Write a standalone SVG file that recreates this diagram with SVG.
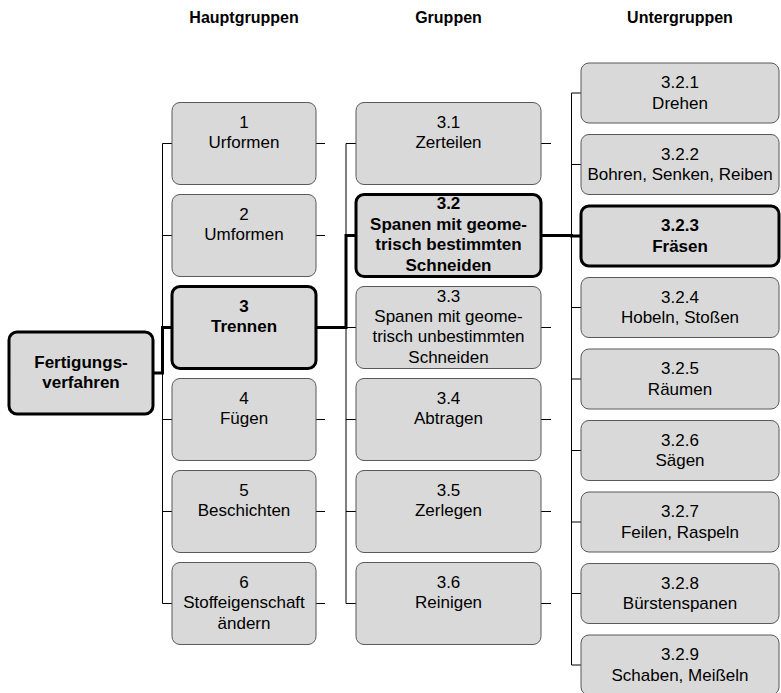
<svg xmlns="http://www.w3.org/2000/svg" width="781" height="693" viewBox="0 0 781 693">
<style>
.n{fill:#d9d9d9;stroke:#595959;stroke-width:1}
.b{fill:#d9d9d9;stroke:#000;stroke-width:3}
text{font-family:"Liberation Sans",Arial,sans-serif;font-size:17px;text-anchor:middle;fill:#000}
.bt{font-weight:bold}
.h{font-weight:bold;font-size:16px}
.thin{fill:none;stroke:#000;stroke-width:1}
.thick{fill:none;stroke:#000;stroke-width:3}
</style>
<rect width="781" height="693" fill="#fff"/>
<g id="headers">
<text class="h" x="244" y="23">Hauptgruppen</text>
<text class="h" x="448.5" y="23">Gruppen</text>
<text class="h" x="680" y="23">Untergruppen</text>
</g>
<g id="connectors">
<path class="thin" d="M162.5 143.5V603.5M162.5 143.5H172M162.5 235.5H172M162.5 419.5H172M162.5 511.5H172M162.5 603.5H172M316 143.5H325M316 235.5H325M316 419.5H325M316 511.5H325M316 603.5H325"/>
<path class="thin" d="M346 143.5V603.5M346 143.5H356M346 327.5H356M346 419.5H356M346 511.5H356M346 603.5H356M541 143.5H551M541 327.5H551M541 419.5H551M541 511.5H551M541 603.5H551"/>
<path class="thin" d="M571.5 93V665M571.5 93H581M571.5 164.5H581M571.5 307.5H581M571.5 379H581M571.5 450.5H581M571.5 522H581M571.5 593.5H581M571.5 665H581"/>
<path class="thick" d="M153 373H162.5V327.5H172M316 327.5H346V235.5H356M541 235.5H571.5V236H581"/>
</g>
<g id="n0"><rect class="b" x="9" y="332" width="144" height="82" rx="8"/><text class="bt" x="81" y="367.5">Fertigungs-</text><text class="bt" x="81" y="388">verfahren</text></g>
<g id="n1"><rect class="n" x="172" y="102.5" width="144" height="82" rx="8"/><text x="244" y="128">1</text><text x="244" y="148.3">Urformen</text></g>
<g id="n2"><rect class="n" x="172" y="194.5" width="144" height="82" rx="8"/><text x="244" y="220">2</text><text x="244" y="240.3">Umformen</text></g>
<g id="n3"><rect class="b" x="172" y="286.5" width="144" height="82" rx="8"/><text class="bt" x="244" y="312">3</text><text class="bt" x="244" y="332.3">Trennen</text></g>
<g id="n4"><rect class="n" x="172" y="378.5" width="144" height="82" rx="8"/><text x="244" y="404">4</text><text x="244" y="424.3">Fügen</text></g>
<g id="n5"><rect class="n" x="172" y="470.5" width="144" height="82" rx="8"/><text x="244" y="496">5</text><text x="244" y="516.3">Beschichten</text></g>
<g id="n6"><rect class="n" x="172" y="562.5" width="144" height="82" rx="8"/><text x="244" y="588">6</text><text x="244" y="608.3">Stoffeigenschaft</text><text x="244" y="628.6">ändern</text></g>
<g id="n31"><rect class="n" x="356" y="102.5" width="185" height="82" rx="8"/><text x="448.5" y="128">3.1</text><text x="448.5" y="148.3">Zerteilen</text></g>
<g id="n32"><rect class="b" x="356" y="194.5" width="185" height="82" rx="8"/><text class="bt" x="448.5" y="209">3.2</text><text class="bt" x="448.5" y="229.7">Spanen mit geome-</text><text class="bt" x="448.5" y="250.2">trisch bestimmten</text><text class="bt" x="448.5" y="270.7">Schneiden</text></g>
<g id="n33"><rect class="n" x="356" y="286.5" width="185" height="82" rx="8"/><text x="448.5" y="301.5">3.3</text><text x="448.5" y="322">Spanen mit geome-</text><text x="448.5" y="342.4">trisch unbestimmten</text><text x="448.5" y="362.8">Schneiden</text></g>
<g id="n34"><rect class="n" x="356" y="378.5" width="185" height="82" rx="8"/><text x="448.5" y="404">3.4</text><text x="448.5" y="424.3">Abtragen</text></g>
<g id="n35"><rect class="n" x="356" y="470.5" width="185" height="82" rx="8"/><text x="448.5" y="496">3.5</text><text x="448.5" y="516.3">Zerlegen</text></g>
<g id="n36"><rect class="n" x="356" y="562.5" width="185" height="82" rx="8"/><text x="448.5" y="588">3.6</text><text x="448.5" y="608.3">Reinigen</text></g>
<g id="n321"><rect class="n" x="581" y="63" width="198" height="60" rx="8"/><text x="680" y="88.3">3.2.1</text><text x="680" y="108.5">Drehen</text></g>
<g id="n322"><rect class="n" x="581" y="134.5" width="198" height="60" rx="8"/><text x="680" y="159.8">3.2.2</text><text x="680" y="180">Bohren, Senken, Reiben</text></g>
<g id="n323"><rect class="b" x="581" y="206" width="198" height="60" rx="8"/><text class="bt" x="680" y="231.3">3.2.3</text><text class="bt" x="680" y="251.5">Fräsen</text></g>
<g id="n324"><rect class="n" x="581" y="277.5" width="198" height="60" rx="8"/><text x="680" y="302.8">3.2.4</text><text x="680" y="323">Hobeln, Stoßen</text></g>
<g id="n325"><rect class="n" x="581" y="349" width="198" height="60" rx="8"/><text x="680" y="374.3">3.2.5</text><text x="680" y="394.5">Räumen</text></g>
<g id="n326"><rect class="n" x="581" y="420.5" width="198" height="60" rx="8"/><text x="680" y="445.8">3.2.6</text><text x="680" y="466">Sägen</text></g>
<g id="n327"><rect class="n" x="581" y="492" width="198" height="60" rx="8"/><text x="680" y="517.3">3.2.7</text><text x="680" y="537.5">Feilen, Raspeln</text></g>
<g id="n328"><rect class="n" x="581" y="563.5" width="198" height="60" rx="8"/><text x="680" y="588.8">3.2.8</text><text x="680" y="609">Bürstenspanen</text></g>
<g id="n329"><rect class="n" x="581" y="635" width="198" height="60" rx="8"/><text x="680" y="660.3">3.2.9</text><text x="680" y="680.5">Schaben, Meißeln</text></g>
</svg>
